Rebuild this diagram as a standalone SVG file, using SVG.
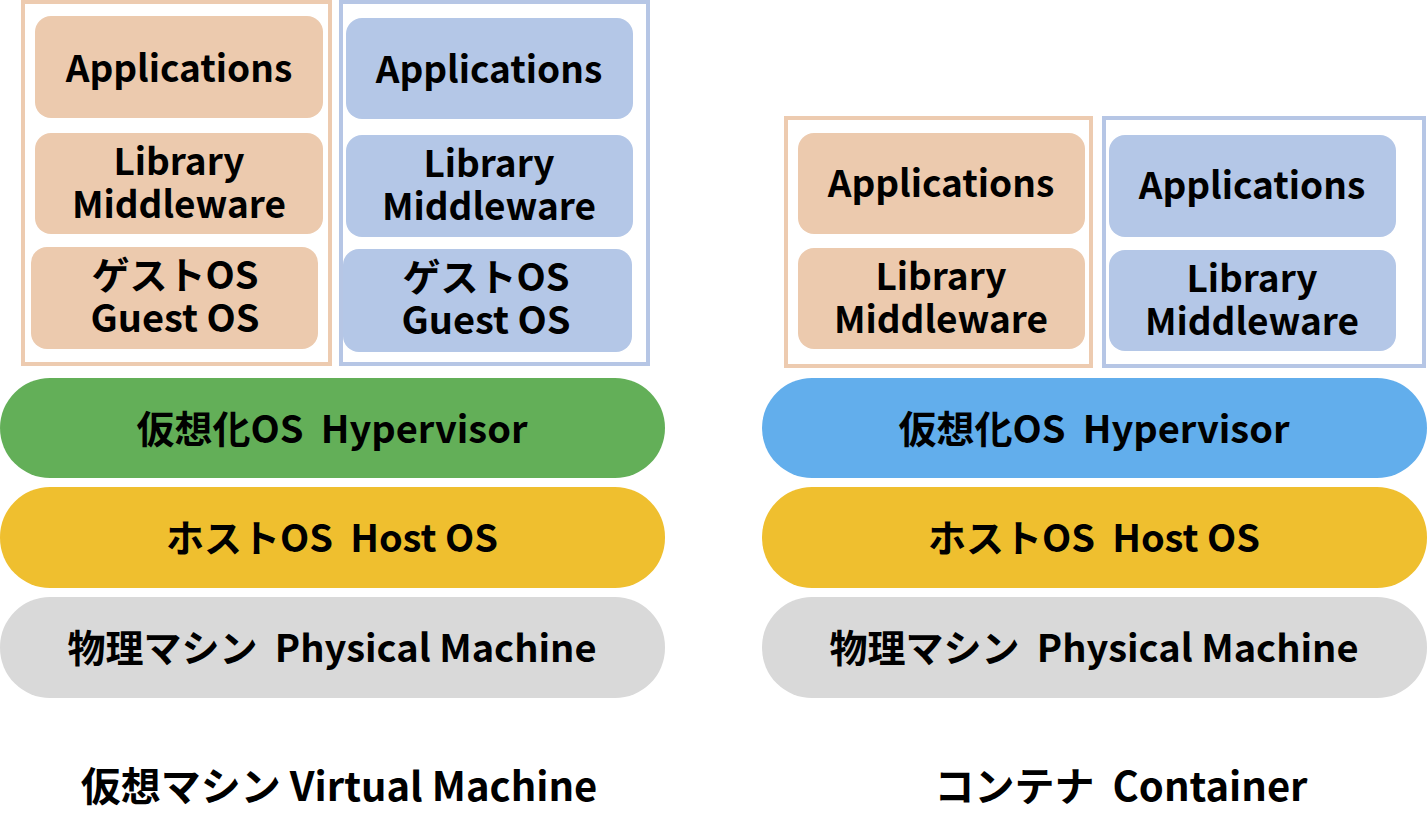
<svg xmlns="http://www.w3.org/2000/svg" width="1427" height="839" viewBox="0 0 1427 839">
<style>
text{font-family:"Noto Sans CJK JP","Noto Sans",sans-serif;font-weight:bold;fill:#000;text-anchor:middle;font-size:38px;white-space:pre}
.s{font-size:37px}
.lb{font-size:40px}
.fp{fill:none;stroke:#EDCBB0;stroke-width:4}
.fb{fill:none;stroke:#B6C6E5;stroke-width:4}
.p{fill:#ECCAAE}
.b{fill:#B4C7E7}
</style>
<rect width="1427" height="839" fill="#fff"/>
<g id="vm-frame-1"><rect class="fp" x="23" y="2" width="307" height="362"/></g>
<g id="vm-app-1"><rect class="p" x="35" y="16" width="288" height="102" rx="16"/><text class="s" x="179" y="82">Applications</text></g>
<g id="vm-lib-1"><rect class="p" x="35" y="133" width="288" height="101" rx="16"/><text class="s" x="179" y="175">Library<tspan x="179" dy="43">Middleware</tspan></text></g>
<g id="vm-guest-1"><rect class="p" x="31" y="247" width="287" height="102" rx="16"/><text x="175" y="289">ゲストOS<tspan x="175" dy="43">Guest OS</tspan></text></g>
<g id="vm-frame-2"><rect class="fb" x="341" y="2" width="307" height="362"/></g>
<g id="vm-app-2"><rect class="b" x="346" y="18" width="287" height="101" rx="16"/><text class="s" x="489" y="83">Applications</text></g>
<g id="vm-lib-2"><rect class="b" x="346" y="135" width="287" height="102" rx="16"/><text class="s" x="489" y="177">Library<tspan x="489" dy="43">Middleware</tspan></text></g>
<g id="vm-guest-2"><rect class="b" x="343" y="249" width="289" height="103" rx="16"/><text x="486" y="291">ゲストOS<tspan x="486" dy="43">Guest OS</tspan></text></g>
<g id="vm-hyper"><rect x="0" y="378" width="665" height="100" rx="50" fill="#63AF58"/><text x="332" y="443">仮想化OS  Hypervisor</text></g>
<g id="vm-host"><rect x="0" y="487" width="665" height="101" rx="50" fill="#EFBF2F"/><text x="332" y="552">ホストOS  Host OS</text></g>
<g id="vm-phys"><rect x="0" y="597" width="665" height="101" rx="50" fill="#D9D9D9"/><text x="332" y="662">物理マシン  Physical Machine</text></g>
<g id="ct-frame-1"><rect class="fp" x="786" y="118" width="305" height="248"/></g>
<g id="ct-app-1"><rect class="p" x="798" y="133" width="287" height="101" rx="16"/><text class="s" x="941" y="197">Applications</text></g>
<g id="ct-lib-1"><rect class="p" x="798" y="248" width="287" height="101" rx="16"/><text class="s" x="941" y="290">Library<tspan x="941" dy="43">Middleware</tspan></text></g>
<g id="ct-frame-2"><rect class="fb" x="1104" y="118" width="320" height="248"/></g>
<g id="ct-app-2"><rect class="b" x="1109" y="135" width="287" height="102" rx="16"/><text class="s" x="1252" y="199">Applications</text></g>
<g id="ct-lib-2"><rect class="b" x="1109" y="250" width="287" height="101" rx="16"/><text class="s" x="1252" y="292">Library<tspan x="1252" dy="43">Middleware</tspan></text></g>
<g id="ct-hyper"><rect x="762" y="378" width="665" height="100" rx="50" fill="#62AEEC"/><text x="1094" y="443">仮想化OS  Hypervisor</text></g>
<g id="ct-host"><rect x="762" y="487" width="665" height="101" rx="50" fill="#EFBF2F"/><text x="1094" y="552">ホストOS  Host OS</text></g>
<g id="ct-phys"><rect x="762" y="597" width="665" height="101" rx="50" fill="#D9D9D9"/><text x="1094" y="662">物理マシン  Physical Machine</text></g>
<g id="labels"><text class="lb" x="339" y="801">仮想マシン Virtual Machine</text><text class="lb" x="1121" y="801">コンテナ  Container</text></g>
<g id="connectors"/>
</svg>
